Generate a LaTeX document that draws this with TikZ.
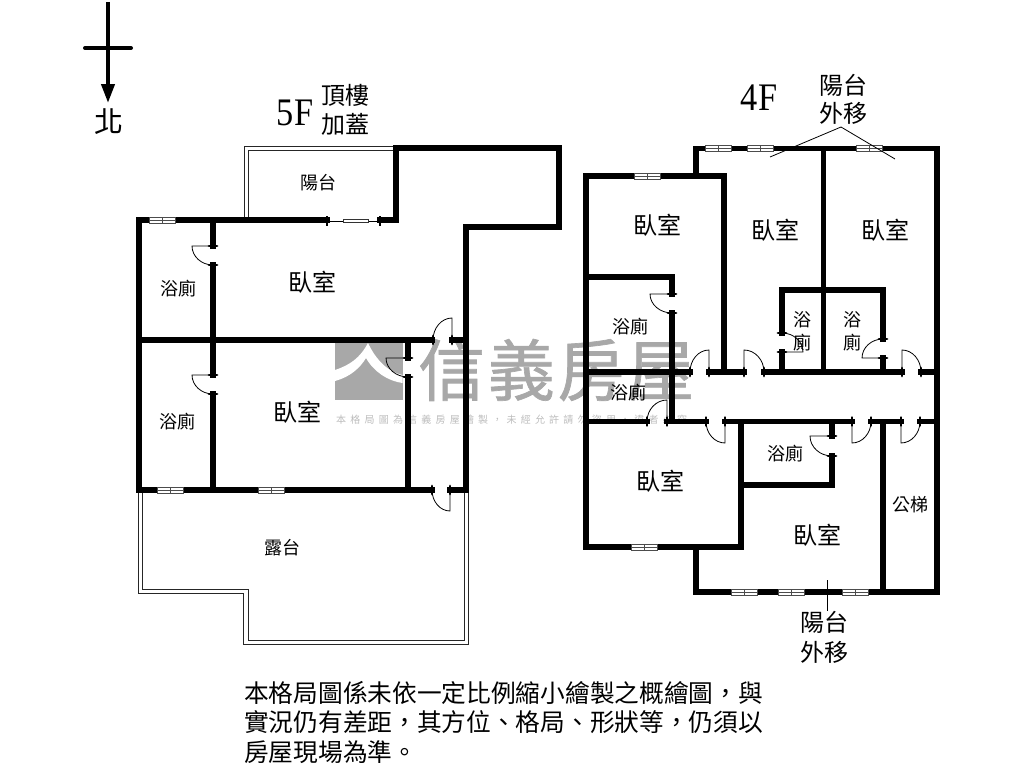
\documentclass[tikz,border=0pt]{standalone}
\usepackage{fontspec}
\usetikzlibrary{calc,arrows.meta}
\setmainfont{Noto Sans CJK TC}
\newfontfamily\wmwide[LetterSpace=42]{Noto Sans CJK TC}
\newfontfamily\wmbig[LetterSpace=4,FakeBold=1]{Noto Sans CJK TC}
\newfontfamily\floorfont{Liberation Serif}
\newcommand{\cjkcomma}{\char"FF0C\relax}
\definecolor{wmgray}{gray}{0.66}
\definecolor{wmtext}{gray}{0.74}
\tikzset{
  wall/.style={black,solid,line width=5.2pt,line cap=rect,line join=miter},
  rail/.style={black!85,solid,line width=0.9pt,line join=miter},
  thinline/.style={black,solid,line width=0.8pt},
  jamb/.style={black,line width=2.8pt,line cap=round},
  roomlabel/.style={black,inner sep=0pt,font=\fontsize{24}{24}\selectfont},
  bathlabel/.style={black,inner sep=0pt,font=\fontsize{18}{18}\selectfont},
  floorlabel/.style={black,inner sep=0pt,xscale=0.88,transform shape,font=\floorfont\fontsize{39}{39}\selectfont},
}
% Window in a horizontal wall, centred at (x,y)
\newcommand{\winunit}[2]{
  \draw[black!70,fill=white,line width=0.9pt] ($(#1,#2)+(-13,-3)$) rectangle ($(#1,#2)+(13,3)$);
  \draw[black!70,line width=0.9pt] ($(#1,#2)+(-13,0)$)--($(#1,#2)+(13,0)$);
  \draw[black!70,line width=0.9pt] ($(#1,#2)+(0,-3)$)--($(#1,#2)+(0,3)$);
}
% Door: hinge, leaf tip, other jamb
\newcommand{\doorunit}[3]{
  \draw[thinline] (#1)--(#2) .. controls ($(#2)+0.55*(#3)-0.55*(#1)$) and ($(#3)+0.55*(#2)-0.55*(#1)$) .. (#3);
  \draw[jamb] ($(#1)!4pt!(#2)$)--($(#1)!-4pt!(#2)$);
  \coordinate (tmpa) at ($(#3)+(#2)-(#1)$);
  \draw[jamb] ($(#3)!4pt!(tmpa)$)--($(#3)!-4pt!(tmpa)$);
}
\begin{document}
\begin{tikzpicture}[x=1pt,y=-1pt]
\useasboundingbox (0,0) rectangle (1024,768);
% Watermark
\fill[wmgray] (335,343) rectangle (402.5,400);
\fill[white] (368,343) .. controls (360,358) and (350,365) .. (335,370)--(335,381) .. controls (350,377) and (360,368) .. (366,358) .. controls (374,372) and (388,381) .. (402.5,383)--(402.5,375) .. controls (388,372) and (376,360) .. (368,343)--cycle;
\node[text=wmgray,inner sep=0pt,anchor=west,font=\wmbig\fontsize{67}{67}\selectfont] (wmName) at (418,370) {信義房屋};
\node[text=wmtext,inner sep=0pt,anchor=west,font=\wmwide\fontsize{10}{10}\selectfont] (wmNote) at (336,420) {本格局圖為信義房屋繪製\cjkcomma 未經允許請勿盜用\cjkcomma 違者必究};
% North arrow
\draw[black,line width=4pt,line cap=round] (85,48)--(131,48);
\draw[black,line width=4pt,-{Triangle[length=19pt,width=13pt]}] (108,2)--(108,103);
\node[black,inner sep=0pt,font=\fontsize{29}{29}\selectfont] (northMark) at (109,122) {北};
% 5F rails
\draw[rail] (393,146)--(244,146)--(244,220);
\draw[rail] (393,150)--(248,150)--(248,220);
\draw[rail] (138,490)--(138,593)--(243,593)--(243,644)--(468,644)--(468,490);
\draw[rail] (142,490)--(142,589)--(248,589)--(248,640)--(464,640)--(464,490);
% 5F walls
\draw[wall] (396,220)--(396,148)--(559,148)--(559,227)--(466,227)--(466,490);
\draw[wall] (139,220)--(139,490);
\draw[wall] (139,220)--(327,220);
\draw[wall] (380,220)--(396,220);
\draw[wall] (213,220)--(213,246);
\draw[wall] (213,265)--(213,340);
\draw[wall] (139,340)--(432,340);
\draw[wall] (452,340)--(466,340);
\draw[wall] (213,340)--(213,375);
\draw[wall] (213,394)--(213,490);
\draw[wall] (408,340)--(408,358);
\draw[wall] (408,377)--(408,490);
\draw[wall] (139,490)--(432,490);
\draw[wall] (450,490)--(466,490);
% 5F sliding door
\draw[thinline] (327,221)--(380,221);
\draw[black,line width=2pt] (327,216)--(327,226);
\draw[black,line width=2pt] (380,216)--(380,226);
\draw[black!80,fill=white,line width=0.8pt] (343,219)--(368,219)--(368,222)--(343,222)--cycle;
% 5F windows
\winunit{162}{220}
\winunit{170}{490}
\winunit{271}{490}
% 5F doors
\doorunit{213,246}{192,246}{213,265}
\doorunit{452,340}{452,318}{433,340}
\doorunit{213,375}{192,375}{213,394}
\doorunit{408,358}{386,358}{408,377}
\doorunit{450,490}{450,511}{432,490}
% 4F walls
\draw[wall] (696,176)--(696,148.5)--(937,148.5)--(937,592)--(696,592)--(696,547);
\draw[wall] (586,176)--(724,176)--(724,372);
\draw[wall] (586,176)--(586,547)--(741,547)--(741,421.5);
\draw[wall] (823.5,148.5)--(823.5,372);
\draw[wall] (782,333)--(782,290)--(883,290)--(883,339);
\draw[wall] (782,352)--(782,372);
\draw[wall] (883,358)--(883,372);
\draw[wall] (586,277)--(672,277)--(672,294);
\draw[wall] (672,313)--(672,421.5);
% corridor top
\draw[wall] (586,372)--(690,372);
\draw[wall] (709,372)--(744,372);
\draw[wall] (764,372)--(902,372);
\draw[wall] (921,372)--(937,372);
% corridor bottom
\draw[wall] (586,421.5)--(647,421.5);
\draw[wall] (667,421.5)--(706,421.5);
\draw[wall] (725,421.5)--(852,421.5);
\draw[wall] (871,421.5)--(901,421.5);
\draw[wall] (920,421.5)--(937,421.5);
% lower rooms
\draw[wall] (741,485)--(832,485)--(832,456);
\draw[wall] (832,436)--(832,421.5);
\draw[wall] (883,421.5)--(883,592);
% 4F windows
\winunit{718}{148.5}
\winunit{760.5}{148.5}
\winunit{869}{148.5}
\winunit{647.5}{176}
\winunit{644}{547}
\winunit{744}{592}
\winunit{791}{592}
\winunit{855}{592}
% 4F doors
\doorunit{672,294}{650,294}{672,313}
\doorunit{782,352}{803,352}{782,333}
\doorunit{883,358}{862,358}{883,339}
\doorunit{709,372}{709,350}{690,372}
\doorunit{744,372}{744,350}{764,372}
\doorunit{902,372}{902,350}{921,372}
\doorunit{667,421.5}{667,400}{647,421.5}
\doorunit{725,421.5}{725,443}{706,421.5}
\doorunit{852,421.5}{852,443}{871,421.5}
\doorunit{901,421.5}{901,443}{920,421.5}
\doorunit{832,436}{810,436}{832,456}
% Leader lines
\coordinate (leadTop) at (841,127);
\coordinate (leadLeft) at (770,157);
\coordinate (leadRight) at (895,159);
\coordinate (leadLow) at (827.5,580);
\coordinate (leadEnd) at (827.5,611);
\draw[thinline] (leadLeft)--(leadTop)--(leadRight);
\draw[thinline] (leadLow)--(leadEnd);
% 5F labels
\node[floorlabel] (floorFive) at (295,113) {5F};
\node[roomlabel] (roofTop) at (345,95) {頂樓};
\node[roomlabel] (roofLow) at (345,124) {加蓋};
\node[bathlabel] (balconyFive) at (318,183) {陽台};
\node[bathlabel] (bathFiveA) at (178,289) {浴廁};
\node[roomlabel] (bedFiveA) at (312,282) {臥室};
\node[bathlabel] (bathFiveB) at (177,422) {浴廁};
\node[roomlabel] (bedFiveB) at (297,412.5) {臥室};
\node[bathlabel] (terrace) at (282,547.5) {露台};
% 4F labels
\node[floorlabel] (floorFour) at (759,98) {4F};
\node[roomlabel] (moveTopA) at (843,85) {陽台};
\node[roomlabel] (moveTopB) at (843,113) {外移};
\node[roomlabel] (bedFourA) at (657,225.5) {臥室};
\node[roomlabel] (bedFourB) at (775,230) {臥室};
\node[roomlabel] (bedFourC) at (885,230) {臥室};
\node[bathlabel] (bathFourA) at (630,326.5) {浴廁};
\node[bathlabel] (bathFourB) at (802.5,320) {浴};
\node[bathlabel] (bathFourC) at (802.5,343) {廁};
\node[bathlabel] (bathFourD) at (852.5,320) {浴};
\node[bathlabel] (bathFourE) at (852.5,343) {廁};
\node[bathlabel] (bathFourF) at (628,393) {浴廁};
\node[bathlabel] (bathFourG) at (785.5,454) {浴廁};
\node[roomlabel] (bedFourD) at (660,481.5) {臥室};
\node[roomlabel] (bedFourE) at (817,535.5) {臥室};
\node[bathlabel] (stairs) at (910,505) {公梯};
\node[roomlabel] (moveLowA) at (824,622) {陽台};
\node[roomlabel] (moveLowB) at (824,652) {外移};
% The note
\node[black,inner sep=0pt,anchor=north west,align=left,font=\fontsize{24.7}{29.5}\selectfont] (planNote) at (244,681) {本格局圖係未依一定比例縮小繪製之概繪圖\cjkcomma 與\\實況仍有差距\cjkcomma 其方位、格局、形狀等\cjkcomma 仍須以\\房屋現場為準。};
\end{tikzpicture}
\end{document}
